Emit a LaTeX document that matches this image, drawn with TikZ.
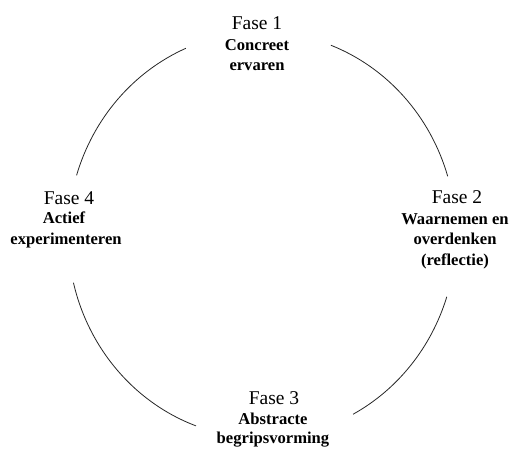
\documentclass[tikz,border=0pt]{standalone}
\usepackage{fontspec}
\setmainfont{Liberation Serif}
\usetikzlibrary{calc}
\begin{document}
\begin{tikzpicture}[x=1pt,y=1pt,
  fase/.style={anchor=base,inner sep=0pt,font=\fontsize{19.5}{22}\selectfont},
  desc/.style={anchor=base,inner sep=0pt,font=\bfseries\fontsize{16.6}{20}\selectfont},
  cyc/.style={draw=black!85,line width=0.8pt}]
\useasboundingbox (0,0) rectangle (512,448);
% phase 1
\node[fase] (f1) at (257,418) {Fase 1};
\node[desc] (f1a) at (257,397.5) {Concreet};
\node[desc] (f1b) at (257,377) {ervaren};
% phase 2
\node[fase] (f2) at (457,244) {Fase 2};
\node[desc] (f2a) at (455,223.5) {Waarnemen en};
\node[desc] (f2b) at (455,203) {overdenken};
\node[desc] (f2c) at (455,182.5) {(reflectie)};
% phase 3
\node[fase] (f3) at (274,44) {Fase 3};
\node[desc] (f3a) at (273,23.5) {Abstracte};
\node[desc] (f3b) at (273,4.5) {begripsvorming};
% phase 4
\node[fase] (f4) at (69,243) {Fase 4};
\node[desc] (f4a) at (64,224.5) {Actief};
\node[desc] (f4b) at (66,204) {experimenteren};
% cycle arcs
\coordinate (O) at (262,213);
\coordinate (a1) at ($(O)+(69.2:194 and 203)$);
\coordinate (a2) at ($(O)+(-17.7:194 and 203)$);
\coordinate (a3) at ($(O)+(250.1:194 and 203)$);
\coordinate (a4) at ($(O)+(162.9:194 and 203)$);
\draw[cyc] (a1) arc[start angle=69.2,end angle=16.8,x radius=194,y radius=203];
\draw[cyc] (a2) arc[start angle=-17.7,end angle=-62,x radius=194,y radius=203];
\draw[cyc] (a3) arc[start angle=250.1,end angle=193.6,x radius=194,y radius=203];
\draw[cyc] (a4) arc[start angle=162.9,end angle=113.1,x radius=194,y radius=203];
\end{tikzpicture}
\end{document}
